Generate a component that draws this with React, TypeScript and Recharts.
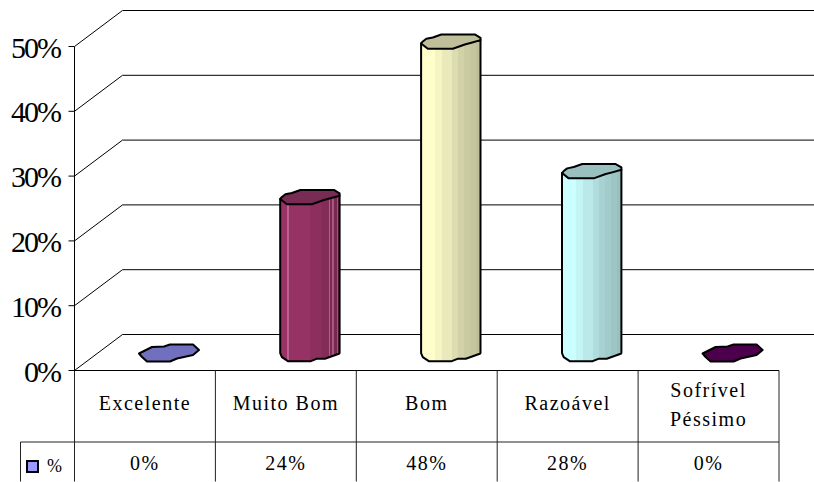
import React from 'react';
import { Bar, BarChart, CartesianGrid, XAxis, YAxis } from 'recharts';

const categories = ['Excelente', 'Muito Bom', 'Bom', 'Razoável', 'Sofrível\nPéssimo'];
const values = [0, 24, 48, 28, 0];
const percentTicks = [0, 10, 20, 30, 40, 50];
const seriesName = '%';

// shades across each cylinder as [band end, colour], and the colour of its lid
const bodyShades: [number, string][][] = [
  [[1, '#7070bf']],
  [
    [0.12, '#993366'], [0.145, '#b8648f'], [0.5, '#963264'], [0.7, '#8c2f5d'],
    [0.82, '#842c58'], [0.845, '#ad6088'], [0.88, '#7f2a55'], [0.905, '#a45a80'],
    [0.95, '#7a2851'], [0.97, '#9c5478'], [1, '#73264d'],
  ],
  [
    [0.24, '#ffffcc'], [0.35, '#f5f5c4'], [0.52, '#e9e9bb'], [0.62, '#dcdcb0'],
    [0.72, '#d2d2a8'], [0.83, '#cbcba2'], [0.92, '#c5c59e'], [1, '#bfbf99'],
  ],
  [
    [0.24, '#ccffff'], [0.35, '#c4f5f5'], [0.52, '#bbe9e9'], [0.62, '#b0dcdc'],
    [0.72, '#a8d2d2'], [0.83, '#a2cbcb'], [0.92, '#9ec5c5'], [1, '#99bfbf'],
  ],
  [[1, '#4c004c']],
];
const lidColors = ['#7070bf', '#772b55', '#bfbf99', '#99bfbf', '#4c004c'];
const legendColor = '#9999ff';

const width = 814;
const height = 482;
const left = 74.5;
const right = 779;
const top = 46.5;
const floorY = 370.5;
const rowY = 442;
const tableBottom = 481.5;
const legendLeft = 20.5;
const depthX = 48;
const depthY = 36;
const serif = '"Liberation Serif", serif';

const pts = (cx: number, cy: number, list: number[][]) =>
  list.map(([dx, dy]) => `${cx + dx},${cy + dy}`).join(' ');

// hand-drawn outlines of the lid, the foot and a zero-height bar
const lidOutline = [
  [-29.7, 2], [-28, 0], [-24.5, -2.7], [-18, -4], [-9.5, -7], [24, -7], [29.7, -3.7],
  [29.7, -1.3], [20.5, 1.3], [14, 3], [2, 7.3], [-23, 7.3],
];
const baseOutline = [
  [29.7, 0.5], [29, 1.3], [15, 6.3], [6.7, 6.3], [1, 8.7], [-22, 8.7], [-28, 4.7], [-29.7, 0.7],
];
const flatOutline = [
  [-30, 1], [-24, -2], [-17, -5.5], [-5, -6], [1, -8], [24, -8], [30, -2.5], [24, 2.5],
  [8, 6], [1, 9], [-22, 9], [-27, 4.5],
];

const outlineStyle = { stroke: '#000', strokeWidth: 2, strokeLinejoin: 'round' as const };

function Cylinder(props: any) {
  const { x, y, width: w, height: h, index } = props;
  const cx = x + w / 2 + depthX / 2 + 0.5;
  const topY = y - depthY / 2;
  const baseY = y + h - depthY / 2;
  if (h < 1) {
    return <polygon points={pts(cx, baseY, flatOutline)} fill={lidColors[index]} {...outlineStyle} />;
  }
  const side = [
    [-29.7, topY + 2 - baseY],
    [29.7, topY - 1.3 - baseY],
    ...baseOutline,
  ];
  return (
    <g>
      <polygon points={pts(cx, baseY, side)} fill={`url(#body${index})`} {...outlineStyle} />
      <polygon points={pts(cx, topY, lidOutline)} fill={lidColors[index]} {...outlineStyle} />
    </g>
  );
}

// wall line: runs back from the axis and then along the rear wall
function WallLine(props: any) {
  const { y } = props;
  return (
    <path
      d={`M${left} ${y}L${left + depthX} ${y - depthY}L${width} ${y - depthY}`}
      fill="none"
      stroke="#000"
      strokeWidth={1}
    />
  );
}

function PercentTick(props: any) {
  const { y, payload } = props;
  return (
    <g>
      <line x1={left - 6} x2={left} y1={y} y2={y} stroke="#000" />
      <text x={60} y={y + 11} textAnchor="end" fontFamily={serif} fontSize={30} letterSpacing={-2} fill="#000">
        {payload.value}%
      </text>
    </g>
  );
}

const tableText = { fontFamily: serif, fontSize: 20, letterSpacing: 1.5, fill: '#000', textAnchor: 'middle' as const };

// each category tick draws its own column of the data table
function TableTick(props: any) {
  const { x, payload, index } = props;
  const colW = (right - left) / categories.length;
  const colRight = x + colW / 2;
  const lines = String(payload.value).split('\n');
  return (
    <g>
      <line x1={colRight} x2={colRight} y1={floorY} y2={tableBottom} stroke="#222" />
      {lines.length === 1 ? (
        <text x={x} y={410} {...tableText}>{lines[0]}</text>
      ) : (
        <>
          <text x={x} y={397} {...tableText}>{lines[0]}</text>
          <text x={x} y={426} {...tableText}>{lines[1]}</text>
        </>
      )}
      <text x={x} y={470} {...tableText}>{values[index]}%</text>
    </g>
  );
}

function TableFrame() {
  return (
    <g stroke="#222" fill="none">
      <line x1={left} x2={left} y1={floorY} y2={tableBottom} />
      <line x1={legendLeft} x2={right} y1={rowY} y2={rowY} />
      <line x1={legendLeft} x2={legendLeft} y1={rowY} y2={tableBottom} />
      <rect x={27} y={461} width={11} height={11} fill={legendColor} stroke="#000" strokeWidth={2} />
      <text x={47} y={472} fontFamily={serif} fontSize={18} fill="#000" stroke="none">{seriesName}</text>
    </g>
  );
}

const data = categories.map((name, i) => ({ name, value: values[i] }));

export default function App() {
  return (
    <div style={{ position: 'absolute', left: 0, top: 0, width, height, background: '#fff' }}>
      <BarChart
        width={width}
        height={height}
        data={data}
        margin={{ top, right: width - right, bottom: 0, left: 0 }}
        barCategoryGap={0}
      >
        <defs>
          {bodyShades.map((bands, i) => (
            <linearGradient key={i} id={`body${i}`} x1="0" x2="1" y1="0" y2="0">
              {bands.flatMap(([end, c], k) => [
                <stop key={`${k}a`} offset={k === 0 ? 0 : bands[k - 1][0]} stopColor={c} />,
                <stop key={`${k}b`} offset={end} stopColor={c} />,
              ])}
            </linearGradient>
          ))}
        </defs>
        <CartesianGrid vertical={false} horizontal={(p: any) => <WallLine key={p.key} y={p.y1} />} />
        <YAxis
          width={left}
          domain={[0, 50]}
          ticks={percentTicks}
          interval={0}
          tickLine={false}
          axisLine={{ stroke: '#000' }}
          tick={<PercentTick />}
        />
        <XAxis
          dataKey="name"
          height={height - floorY}
          interval={0}
          tickLine={false}
          axisLine={{ stroke: '#000' }}
          tick={<TableTick />}
        />
        <Bar dataKey="value" barSize={60} shape={<Cylinder />} isAnimationActive={false} />
        <TableFrame />
      </BarChart>
    </div>
  );
}
